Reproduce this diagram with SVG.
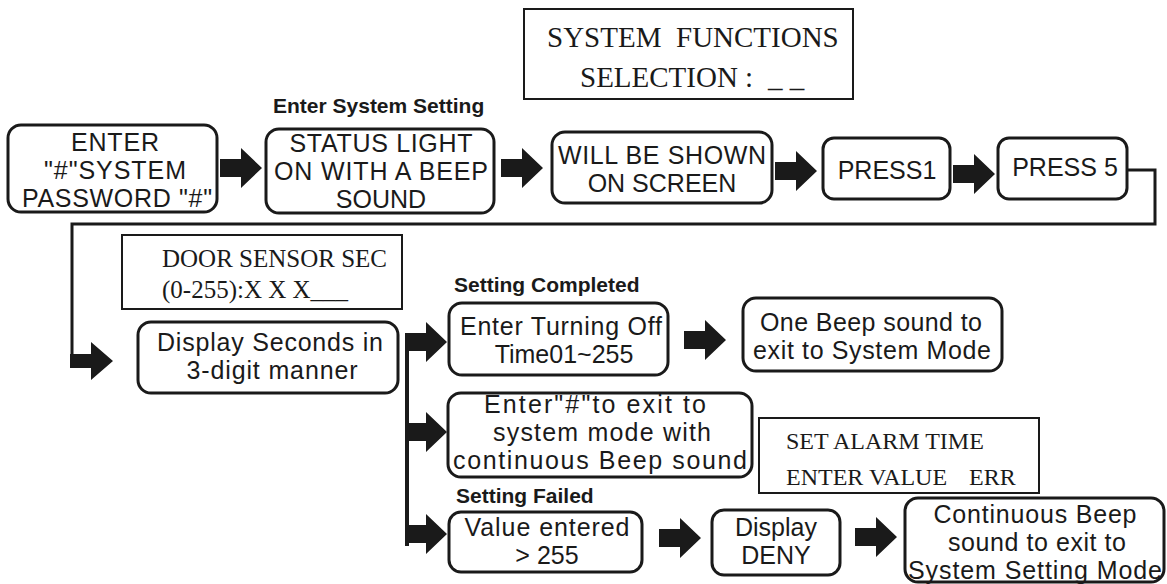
<svg xmlns="http://www.w3.org/2000/svg" xmlns:xlink="http://www.w3.org/1999/xlink" width="1167" height="584" viewBox="0 0 1167 584">
<style>
.bx{fill:#fff;stroke:#1a1a1a;stroke-width:3}
.scr{fill:#fff;stroke:#1a1a1a;stroke-width:2}
.t{font-family:"Liberation Sans",Arial,sans-serif;font-size:25px;fill:#1a1a1a;text-anchor:middle}
.lbl{font-family:"Liberation Sans",Arial,sans-serif;font-size:21px;font-weight:bold;fill:#1a1a1a}
.tm{font-family:"Liberation Serif","Times New Roman",serif;fill:#1a1a1a}
.ln{fill:none;stroke:#1a1a1a;stroke-width:3}
.ar{fill:#1a1a1a}
</style>
<defs>
<path id="arr" d="M0,-9 H21 V-20 L42,0 L21,20 V9 H0 Z"/>
</defs>
<rect width="1167" height="584" fill="#fff"/>

<g id="connectors">
<path class="ln" d="M1127,170 H1155 V224 H72 V368"/>
<path class="ar" d="M70,354 H91 V342 L113,361 L91,380 V368 H70 Z"/>
<path class="ln" d="M407,338 V546" style="stroke-width:4"/>
<use href="#arr" class="ar" x="220" y="168"/>
<use href="#arr" class="ar" x="501" y="168"/>
<use href="#arr" class="ar" x="775" y="171"/>
<use href="#arr" class="ar" x="953" y="174"/>
<use href="#arr" class="ar" x="405" y="342"/>
<use href="#arr" class="ar" x="405" y="432"/>
<use href="#arr" class="ar" x="405" y="534"/>
<use href="#arr" class="ar" x="684" y="340"/>
<use href="#arr" class="ar" x="659" y="538"/>
<use href="#arr" class="ar" x="855" y="537"/>
</g>

<g id="screen-system-functions">
<rect class="scr" x="524" y="9" width="329" height="90"/>
<text class="tm" font-size="29" x="547" y="47">SYSTEM</text>
<text class="tm" font-size="29" x="676" y="47">FUNCTIONS</text>
<text class="tm" font-size="29" x="580" y="87">SELECTION :</text>
<text class="tm" font-size="29" x="768" y="87">_ _</text>
</g>

<g id="label-enter-system-setting">
<text class="lbl" x="273" y="113">Enter System Setting</text>
</g>

<g id="n-enter-password">
<rect class="bx" x="8" y="125" width="209" height="87" rx="13"/>
<text class="t" x="115" y="151" textLength="88">ENTER</text>
<text class="t" x="115" y="179" textLength="142">"#"SYSTEM</text>
<text class="t" x="117" y="207" textLength="190">PASSWORD "#"</text>
</g>

<g id="n-status-light">
<rect class="bx" x="266" y="129" width="228" height="84" rx="13"/>
<text class="t" x="381" y="152" textLength="183">STATUS LIGHT</text>
<text class="t" x="381" y="180" textLength="214">ON WITH A BEEP</text>
<text class="t" x="381" y="208">SOUND</text>
</g>

<g id="n-shown-on-screen">
<rect class="bx" x="552" y="132" width="220" height="71" rx="13"/>
<text class="t" x="662" y="164" textLength="208">WILL BE SHOWN</text>
<text class="t" x="662" y="192">ON SCREEN</text>
</g>

<g id="n-press1">
<rect class="bx" x="823" y="138" width="127" height="61" rx="11"/>
<text class="t" x="887" y="179">PRESS1</text>
</g>

<g id="n-press5">
<rect class="bx" x="998" y="138" width="129" height="61" rx="11"/>
<text class="t" x="1065" y="176">PRESS 5</text>
</g>

<g id="screen-door-sensor">
<rect class="scr" x="122" y="235" width="280" height="74"/>
<text class="tm" font-size="25" x="162" y="267">DOOR SENSOR SEC</text>
<text class="tm" font-size="25" x="162" y="298">(0-255):X X X___</text>
</g>

<g id="n-display-seconds">
<rect class="bx" x="138" y="322" width="260" height="71" rx="13"/>
<text class="t" x="270" y="351" textLength="226">Display Seconds in</text>
<text class="t" x="272" y="379" textLength="171">3-digit manner</text>
</g>

<g id="label-setting-completed">
<text class="lbl" x="454" y="292">Setting Completed</text>
</g>

<g id="n-turning-off">
<rect class="bx" x="449" y="303" width="219" height="72" rx="13"/>
<text class="t" x="561" y="335" textLength="202">Enter Turning Off</text>
<text class="t" x="564" y="363">Time01~255</text>
</g>

<g id="n-one-beep">
<rect class="bx" x="743" y="298" width="259" height="73" rx="13"/>
<text class="t" x="871" y="331" textLength="222">One Beep sound to</text>
<text class="t" x="872" y="359" textLength="238">exit to System Mode</text>
</g>

<g id="n-enter-hash">
<rect class="bx" x="448" y="393" width="304" height="84" rx="13"/>
<text class="t" x="595" y="413" textLength="222">Enter"#"to exit to</text>
<text class="t" x="602" y="441" textLength="218">system mode with</text>
<text class="t" x="600" y="469" textLength="294">continuous Beep sound</text>
</g>

<g id="screen-set-alarm">
<rect class="scr" x="759" y="418" width="280" height="75"/>
<text class="tm" font-size="24" x="786" y="449">SET ALARM TIME</text>
<text class="tm" font-size="24" x="786" y="485">ENTER VALUE</text>
<text class="tm" font-size="24" x="969" y="485">ERR</text>
</g>

<g id="label-setting-failed">
<text class="lbl" x="456" y="503">Setting Failed</text>
</g>

<g id="n-value-entered">
<rect class="bx" x="449" y="512" width="193" height="60" rx="12"/>
<text class="t" x="547" y="536" textLength="165">Value entered</text>
<text class="t" x="547" y="564">&gt; 255</text>
</g>

<g id="n-display-deny">
<rect class="bx" x="712" y="510" width="128" height="65" rx="12"/>
<text class="t" x="776" y="536">Display</text>
<text class="t" x="776" y="564">DENY</text>
</g>

<g id="n-continuous-beep">
<rect class="bx" x="905" y="498" width="259" height="84" rx="13"/>
<text class="t" x="1035" y="523" textLength="203">Continuous Beep</text>
<text class="t" x="1037" y="551" textLength="178">sound to exit to</text>
<text class="t" x="1035" y="579" textLength="254">System Setting Mode</text>
</g>
</svg>
